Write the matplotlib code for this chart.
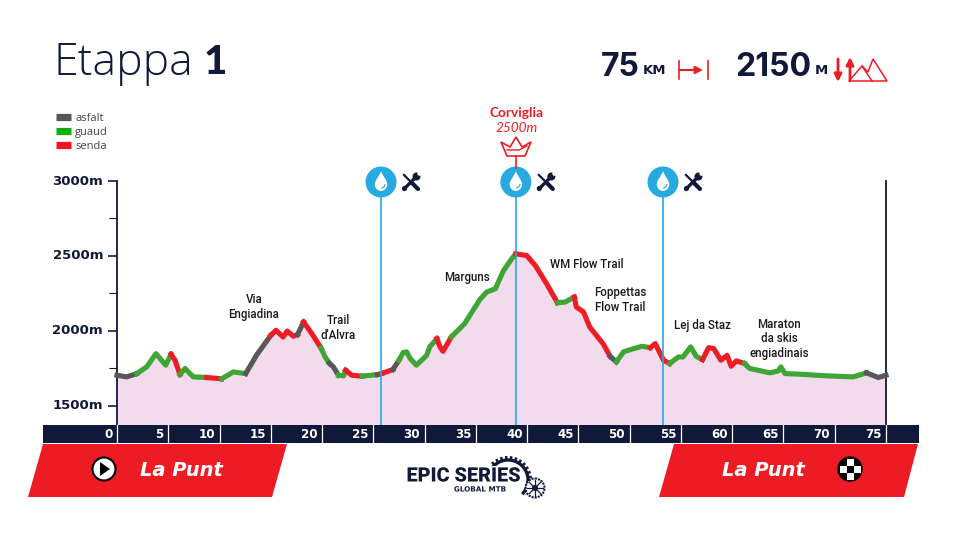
import numpy as np
import matplotlib
matplotlib.use("Agg")
import matplotlib.pyplot as plt
import matplotlib.patheffects as pe
from matplotlib.patches import Polygon, Circle, Rectangle, PathPatch
from matplotlib.path import Path
from matplotlib.lines import Line2D
from matplotlib.transforms import Affine2D

# ---------- data ----------
km = [0, 0.94, 1.92, 2.9, 3.8, 4.75, 5.27, 5.66, 6.14, 6.63, 7.44, 8.75, 10.2, 11.35, 12.55, 13.6,
      15.0, 15.5, 16.2, 16.6, 17.2, 17.6, 18.2, 19.0, 19.9, 20.3, 20.7, 21.1, 21.6, 22.1, 22.3, 22.9, 23.9,
      25.4, 25.8, 26.9, 27.5, 27.9, 28.25, 28.6, 29.2, 30.2, 30.5, 31.2, 31.5, 31.8, 32.6, 33.9, 35.4,
      36.05, 36.9, 37.7, 38.5, 38.9, 39.95, 40.8, 41.9, 42.95, 43.7, 44.6, 44.8, 45.5, 46.1, 47.4, 48.1,
      48.7, 49.4, 50.4, 51.2, 52.0, 52.5, 53.3, 53.9, 54.75, 55.2, 55.95, 56.5, 57.1, 57.7, 58.2, 58.9,
      59.5, 59.9, 60.4, 61.2, 61.7, 63.7, 64.5, 64.75, 65.15, 66.6, 69.2, 71.8, 73.1, 74.25, 75]
elev = [1704, 1693, 1715, 1760, 1848, 1771, 1844, 1804, 1709, 1749, 1693, 1689, 1680, 1726, 1715, 1837,
        1970, 2004, 1959, 1999, 1964, 1975, 2059, 1982, 1885, 1826, 1785, 1760, 1704, 1700, 1737, 1704, 1698,
        1708, 1715, 1742, 1804, 1855, 1860, 1815, 1771, 1837, 1893, 1948, 1893, 1864, 1959, 2048, 2210,
        2259, 2281, 2403, 2481, 2514, 2503, 2436, 2314, 2188, 2192, 2226, 2159, 2126, 2026, 1915, 1830,
        1793, 1860, 1882, 1897, 1888, 1915, 1804, 1782, 1826, 1826, 1893, 1830, 1808, 1888, 1882, 1804,
        1837, 1764, 1800, 1782, 1749, 1720, 1733, 1760, 1715, 1711, 1700, 1693, 1720, 1689, 1704]
surface_ends = [1.92, 5.27, 6.14, 8.75, 10.2, 12.55, 15.0, 17.6, 18.2, 19.9, 20.7, 21.6, 22.3, 23.9, 25.4, 25.8,
                26.9, 27.5, 31.2, 32.6, 38.9, 42.95, 44.6, 48.1, 48.7, 52.0, 53.9, 57.1, 61.2, 73.1, 75]
surface_kinds = ["asfalt", "guaud", "senda", "guaud", "senda", "guaud", "asfalt", "senda", "asfalt", "senda",
                 "guaud", "asfalt", "guaud", "senda", "guaud", "asfalt", "senda", "asfalt", "guaud", "senda",
                 "guaud", "senda", "guaud", "senda", "asfalt", "guaud", "senda", "guaud", "senda", "guaud", "asfalt"]
surface_names = ["asfalt", "guaud", "senda"]
km_ticks = list(range(0, 80, 5))
elev_major = [1500, 2000, 2500, 3000]
elev_minor = [1750, 2250, 2750]
service_km = [25.75, 38.9, 53.25]
places = [("Via\nEngiadina", 254, 307), ("Trail\nd'Alvra", 338, 328), ("Marguns", 467, 277),
          ("WM Flow Trail", 587, 264), ("Foppettas\nFlow Trail", 620, 300), ("Lej da Staz", 702, 326),
          ("Maraton\nda skis\nengiadinais", 779, 339)]

NAVY = "#10193a"
RED = "#ed1c24"
BLUE = "#27aae1"
colors = {"asfalt": "#58585a", "guaud": "#3fa535", "senda": "#ee1c25"}
legend_colors = {"asfalt": "#58585a", "guaud": "#0fae14", "senda": "#f5141e"}
FILL = "#f3dbee"
UI = ["Lato", "DejaVu Sans"]
W, H = 960, 540

fig = plt.figure(figsize=(9.6, 5.4), dpi=100, facecolor="white")
L, R, T, B = 117, 886, 181, 425
ax = fig.add_axes([L / W, 1 - B / H, (R - L) / W, (B - T) / H])
ax.set_xlim(0, 75)
ax.set_ylim(1372, 3000)
ax.patch.set_alpha(0)

x = np.array(km)
y = np.array(elev)
ax.fill_between(x, y, 1372, color=FILL, lw=0, zorder=1)
start = 0
for end, kind in zip(surface_ends, surface_kinds):
    m = (x >= start) & (x <= end)
    ax.plot(x[m], y[m], color=colors[kind], lw=3.7, solid_capstyle="projecting",
            solid_joinstyle="round", zorder=3, clip_on=False)
    start = end
for k in service_km:
    ax.plot([k, k], [1372, 2900], color=BLUE, lw=1.2, zorder=4)

for s in ["top", "bottom"]:
    ax.spines[s].set_visible(False)
for s in ["left", "right"]:
    ax.spines[s].set_color(NAVY)
    ax.spines[s].set_linewidth(1.3)
ax.set_xticks([])
ax.set_yticks(elev_major)
ax.set_yticklabels([f"{v}m" for v in elev_major], fontsize=9.5, fontweight="bold",
                   family="DejaVu Sans", color=NAVY, va="center")
ax.set_yticks(elev_minor, minor=True)
ax.tick_params(axis="y", which="major", length=6.5, width=1.2, color=NAVY, pad=3.5)
ax.tick_params(axis="y", which="minor", length=6, width=0.8, color=NAVY)

# legend
handles = [Line2D([], [], color=legend_colors[n], lw=5.2, solid_capstyle="butt") for n in surface_names]
fig.legend(handles, surface_names, loc="upper left", bbox_to_anchor=(54 / W, 1 - 111 / H), frameon=False,
           prop={"family": "Open Sans", "size": 8}, labelcolor="#444444", handlelength=1.3, handletextpad=0.4,
           labelspacing=0.25, borderpad=0.2, borderaxespad=0)

# decoration layer in pixel units
ov = fig.add_axes([0, 0, 1, 1], zorder=5)
ov.set_xlim(0, W)
ov.set_ylim(H, 0)
ov.axis("off")
ov.patch.set_alpha(0)

def px(k):
    return L + k * (R - L) / 75

# title and totals
ov.text(54, 63.5, "Etappa", fontsize=32, family="Open Sans", fontweight="light", color=NAVY, va="center", ha="left")
ov.text(204, 62, "1", fontsize=29, family=UI, fontweight="black", color=NAVY, va="center", ha="left")
ov.text(601, 68, "75", fontsize=23, family="Inter", fontweight="bold", color=NAVY, va="center", ha="left")
ov.text(643, 70, "KM", fontsize=9.5, family="DejaVu Sans", fontweight="bold", color=NAVY, va="center", ha="left")
ov.text(735, 68, "2150", fontsize=23, family="Inter", fontweight="bold", color=NAVY, va="center", ha="left")
ov.text(815, 70, "M", fontsize=9.5, family="DejaVu Sans", fontweight="bold", color=NAVY, va="center", ha="left")

# distance icon
ov.plot([679, 679], [61, 79], color=RED, lw=1.2)
ov.plot([708, 708], [61, 79], color=RED, lw=1.2)
ov.annotate("", xy=(703, 70), xytext=(679, 70), arrowprops=dict(arrowstyle="-|>", color=RED, lw=1.5, mutation_scale=11, shrinkA=0, shrinkB=0))
# climb icon
ov.annotate("", xy=(838, 82), xytext=(838, 59), arrowprops=dict(arrowstyle="-|>", color=RED, lw=2, mutation_scale=11, shrinkA=0, shrinkB=0))
ov.annotate("", xy=(850, 57), xytext=(850, 81), arrowprops=dict(arrowstyle="-|>", color=RED, lw=2, mutation_scale=11, shrinkA=0, shrinkB=0))
ov.add_patch(Polygon([(849, 81), (862, 66), (868, 72), (873, 59), (887, 81)], closed=True, fc="none", ec=RED, lw=1.1))
ov.plot([862, 872], [66, 81], color=RED, lw=1.1)

# place names
for name, xp, yp in places:
    ov.text(xp, yp, name, fontsize=8.3, family="Roboto", fontweight="medium", color="#1a1a1a", ha="center", va="center", linespacing=1.15)

# summit
ov.text(516, 113, "Corviglia", fontsize=9.8, family=UI, fontweight="bold", color=RED, ha="center", va="center")
ov.text(517, 128, "2500m", fontsize=9.8, family=UI, style="italic", color=RED, ha="center", va="center")
ov.add_patch(Polygon([(501, 142), (510, 147), (516, 137), (522, 147), (531, 142), (525, 156), (507, 156)],
                     closed=True, fc="none", ec=RED, lw=1.2))
ov.plot([507, 519, 527], [150, 150, 146], color=RED, lw=1)
ov.plot([516, 516], [156, 168], color=RED, lw=1.2)

# service points
drop = Path([(0, -10), (-1.5, -5), (-6.2, -1), (-6.2, 3.5), (-6.2, 7.5), (-3, 10), (0, 10), (3, 10), (6.2, 7.5), (6.2, 3.5), (6.2, -1), (1.5, -5), (0, -10)],
            [Path.MOVETO] + [Path.CURVE4] * 12)
for k in service_km:
    cx = px(k)
    ov.add_patch(Circle((cx, 182), 15.5, fc=BLUE, ec="none"))
    ov.add_patch(PathPatch(drop.transformed(Affine2D().translate(cx, 181)), fc="white", ec="none"))
    th = np.radians(np.linspace(10, 80, 12))
    ov.plot(cx + 4 * np.cos(th), 184 + 4 * np.sin(th), color=BLUE, lw=0.8)
    wx = cx + 30
    # screwdriver
    ov.plot([wx - 7, wx + 1], [175, 183], color=NAVY, lw=1.6)
    ov.plot([wx + 1, wx + 7], [183, 189], color=NAVY, lw=3, solid_capstyle="round")
    # wrench
    ov.plot([wx - 7, wx + 6], [189, 176], color=NAVY, lw=2.4, solid_capstyle="round")
    ov.add_patch(Circle((wx + 5.5, 176.5), 4, fc=NAVY, ec="none"))
    ov.add_patch(Polygon([(wx + 5, 177), (wx + 7, 172), (wx + 11, 175)], closed=True, fc="white", ec="none"))
    ov.add_patch(Circle((wx - 6.5, 188.5), 2.6, fc=NAVY, ec="none"))

# distance bar
ov.add_patch(Rectangle((43, 425), 876, 18, fc=NAVY, ec="none"))
for t in km_ticks:
    xp = px(t)
    ov.plot([xp, xp], [425, 443], color="white", lw=0.9)
    ov.text(xp - 4.5, 434.5, str(t), fontsize=8.6, family="DejaVu Sans", fontweight="bold", color="white", ha="right", va="center")

# banners
ov.add_patch(Polygon([(43, 444), (287, 444), (272, 497), (28, 497)], closed=True, fc=RED, ec="none"))
ov.add_patch(Polygon([(674, 444), (918, 444), (904, 497), (659, 497)], closed=True, fc=RED, ec="none"))
ov.text(181, 470, "La Punt", fontsize=14, family="DejaVu Sans", fontweight="bold", style="italic", color="white", ha="center", va="center")
ov.text(763, 470, "La Punt", fontsize=14, family="DejaVu Sans", fontweight="bold", style="italic", color="white", ha="center", va="center")
ov.add_patch(Circle((104, 469), 11.5, fc="white", ec="black", lw=1.5))
ov.add_patch(Polygon([(100, 462), (100, 476), (110, 469)], closed=True, fc="black", ec="none"))
ov.add_patch(Circle((850, 469), 12, fc="black", ec="black", lw=1))
for dx, dy in [(0, -7), (-7, 0), (7, 0), (0, 7)]:
    ov.add_patch(Rectangle((850 + dx - 3.5, 469 + dy - 3.5), 7, 7, fc="white", ec="none"))

# logo
theta = np.radians(np.linspace(-135, 40, 60))
ov.plot(508 + 20 * np.cos(theta), 480 + 20 * np.sin(theta), color=NAVY, lw=2.4, zorder=2)
ov.plot(508 + 22.5 * np.cos(theta), 480 + 22.5 * np.sin(theta), color=NAVY, lw=2.2, ls=(0, (0.8, 0.8)), zorder=2)
ov.add_patch(Circle((535, 488), 9.5, fc="white", ec=NAVY, lw=1.5, ls=(0, (1, 0.5)), zorder=3))
ov.add_patch(Circle((535, 488), 3, fc=NAVY, ec="none", zorder=4))
for a in np.arange(0, 180, 45):
    ca, sa = np.cos(np.radians(a)), np.sin(np.radians(a))
    ov.plot([535 - 8 * ca, 535 + 8 * ca], [488 - 8 * sa, 488 + 8 * sa], color=NAVY, lw=0.9, zorder=4)
ov.text(463.5, 476, "EPIC SERIES", fontsize=14.3, family="Roboto", fontweight="black", color=NAVY, ha="center", va="center",
        zorder=6, path_effects=[pe.withStroke(linewidth=2, foreground="white")])
ov.text(480, 489.5, "GLOBAL MTB", fontsize=5.2, family="DejaVu Sans", fontweight="bold", color=NAVY, ha="center", va="center", zorder=6,
        path_effects=[pe.withStroke(linewidth=1.5, foreground="white")])

fig.savefig("out.png", dpi=100, facecolor="white")
